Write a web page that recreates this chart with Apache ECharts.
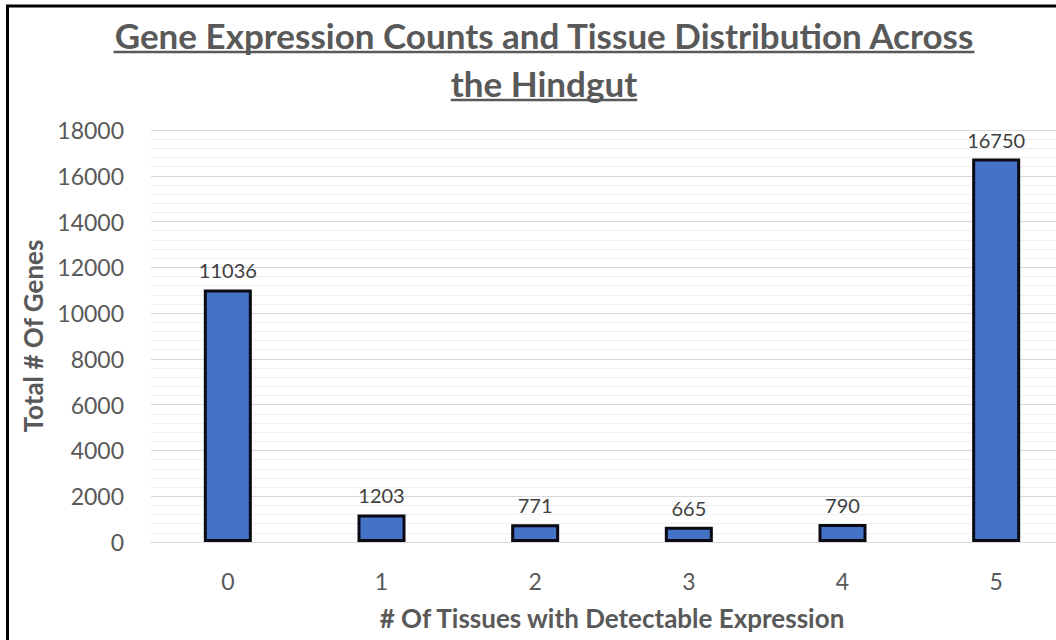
<!DOCTYPE html>
<html>
<head>
<meta charset="utf-8">
<script src="https://cdn.jsdelivr.net/npm/echarts@6/dist/echarts.min.js"></script>
<style>
  html, body { margin: 0; padding: 0; background: #ffffff; }
  #chart { width: 1056px; height: 640px; }
</style>
</head>
<body>
<div id="chart"></div>
<script>
// Number of hindgut tissues in which each gene is detectably expressed
const tissueCounts = ['0', '1', '2', '3', '4', '5'];
const geneTotals = [11036, 1203, 771, 665, 790, 16750];

const titleLines = ['Gene Expression Counts and Tissue Distribution Across', 'the Hindgut'];
const xAxisTitle = '# Of Tissues with Detectable Expression';
const yAxisTitle = 'Total # Of Genes';

const FONT = 'Lato, "Open Sans", sans-serif';
const GREY = '#595959';
const TITLE_FONT = 'bold 35px ' + FONT;
const TITLE_CX = 544;

// width of a heading line, used to size its underline
function textWidth(str, font) {
  const ctx = document.createElement('canvas').getContext('2d');
  ctx.font = font;
  return ctx.measureText(str).width;
}

function headingLine(str, baselineY) {
  const w = textWidth(str, TITLE_FONT);
  return [
    {
      type: 'text',
      silent: true,
      x: TITLE_CX, y: baselineY,
      style: {
        text: str,
        fill: GREY,
        font: TITLE_FONT,
        textAlign: 'center',
        textVerticalAlign: 'bottom',
        verticalAlign: 'bottom'
      }
    },
    {
      type: 'line',
      silent: true,
      shape: { x1: TITLE_CX - w / 2, y1: baselineY, x2: TITLE_CX + w / 2, y2: baselineY },
      style: { stroke: GREY, lineWidth: 2.5 }
    }
  ];
}

const chart = echarts.init(document.getElementById('chart'), null, { renderer: 'svg' });

chart.setOption({
  backgroundColor: '#ffffff',
  animation: false,
  grid: {
    left: 151,
    top: 130,
    width: 922,
    height: 412,
    containLabel: false,
    outerBoundsMode: 'none'
  },
  xAxis: {
    type: 'category',
    data: tissueCounts,
    axisTick: { show: false },
    axisLine: { show: true, lineStyle: { color: '#d9d9d9', width: 1 } },
    axisLabel: { color: GREY, fontFamily: FONT, fontSize: 23, margin: 27 },
    name: xAxisTitle,
    nameLocation: 'middle',
    nameGap: 63,
    nameTextStyle: { color: GREY, fontFamily: FONT, fontSize: 26, fontWeight: 'bold' }
  },
  yAxis: {
    type: 'value',
    min: 0,
    max: 18000,
    interval: 2000,
    axisLine: { show: false },
    axisTick: { show: false },
    axisLabel: {
      color: GREY, fontFamily: FONT, fontSize: 23, margin: 27,
      formatter: (v) => String(v)
    },
    splitLine: { show: true, lineStyle: { color: '#d9d9d9', width: 1 } },
    minorTick: { show: false, splitNumber: 5 },
    minorSplitLine: { show: true, lineStyle: { color: '#efefef', width: 1 } },
    name: yAxisTitle,
    nameLocation: 'middle',
    nameGap: 100,
    nameTextStyle: { color: GREY, fontFamily: FONT, fontSize: 26, fontWeight: 'bold' }
  },
  series: [{
    type: 'bar',
    data: geneTotals,
    barWidth: 48,
    itemStyle: { color: '#4472c4', borderColor: '#0a0a14', borderWidth: 3 },
    label: {
      show: true,
      position: 'top',
      distance: 9,
      color: '#404040',
      fontFamily: FONT,
      fontSize: 20
    }
  }],
  graphic: [
    // outer frame
    {
      type: 'rect',
      silent: true,
      shape: { x: 7.5, y: 6, width: 1200, height: 800 },
      style: { fill: 'none', stroke: '#000000', lineWidth: 3 }
    }
  ]
    .concat(headingLine(titleLines[0], 52))
    .concat(headingLine(titleLines[1], 100))
});
</script>
</body>
</html>
